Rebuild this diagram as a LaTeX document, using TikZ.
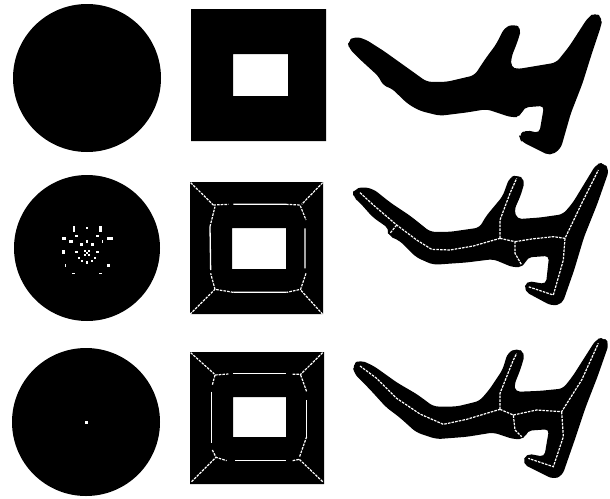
\documentclass[tikz,border=0pt]{standalone}
\tikzset{
  blob/.style={fill=black,draw=black,line width=1.6pt,line join=round,rounded corners=5pt},
  skel/.style={draw=white,line width=1.2pt,dash pattern=on 2.6pt off 1.1pt},
  skelsolid/.style={draw=white,line width=1.3pt},
  zoomed/.style={x=0.33333pt,y=-0.33333pt},
}
\newcommand{\wdot}[4]{\fill[white] ({#1-#3/2},{#2-#4/2}) rectangle ({#1+#3/2},{#2+#4/2});}
\begin{document}
\begin{tikzpicture}[x=1pt,y=-1pt]
\useasboundingbox (0,0) rectangle (610,498);
% circles
\fill[black] (87,78) circle (74);
\fill[black] (87,248) circle (73);
\fill[black] (86,422) circle (74);
% dots of the middle circle
\begin{scope}[shift={(50,210)},zoomed]
\foreach \x/\y/\w/\h in {71/58/6/18,111/54/8/8,152/58/8/18,80/78/10/4,143/78/10/4,42/86/14/8,63/95/10/10,111/95/8/8,158/95/4/10,179/86/18/8,94/104/8/8,128/104/8/8,40/126/10/10,80/126/8/8,143/126/8/8,104/122/6/6,118/122/6/6,111/128/8/6,104/136/6/6,118/136/6/6,87/145/6/6,135/145/6/6,97/152/6/6,111/158/8/8,125/152/6/6,46/167/4/10,175/167/10/10,71/191/10/4,152/191/10/4}
  {\wdot{\x}{\y}{\w}{\h}}
\end{scope}
\fill[white] (84.5,420.5) rectangle (87.5,423.5);
% squares
\fill[black,even odd rule] (191,9) rectangle (326,141) (233,54) rectangle (288,96);
\fill[black,even odd rule] (190,182) rectangle (323,314) (232,228) rectangle (286,269);
\fill[black,even odd rule] (190,352) rectangle (324,484) (233,397) rectangle (286,437);
% skeleton of the middle square
\begin{scope}[shift={(180,170)},zoomed]
\draw[skel] (32,38)--(100,105) (428,38)--(365,103) (30,433)--(105,358) (428,433)--(362,360);
\draw[skel] (100,105)--(145,103) (318,103)--(360,105)--(378,150);
\draw[skelsolid] (160,103)--(318,103) (375,175)--(375,295) (160,367)--(320,367) (90,170)--(92,300);
\draw[skel] (378,310)--(362,358)--(320,367) (160,367)--(105,358)--(92,310) (90,170)--(105,110);
\end{scope}
% skeleton of the bottom square
\begin{scope}[shift={(180,340)},zoomed]
\draw[skel] (32,38)--(103,102) (428,38)--(360,105) (35,425)--(108,352) (428,425)--(358,358);
\draw[skelsolid] (160,100)--(318,100) (165,362)--(318,362) (95,155)--(95,310) (380,180)--(380,290);
\draw[skel] (105,105)--(145,102) (338,103)--(358,103) (362,105)--(380,155) (380,290)--(358,352);
\draw[skel] (105,105)--(97,135) (97,330)--(108,352)--(140,362) (338,362)--(358,358);
\end{scope}
% top profile
\begin{scope}[shift={(340,10)},zoomed]
\draw[blob] (25,95)--(45,82)--(75,90)--(130,125)--(200,175)--(260,218)--(320,218)--(405,198)--(440,145)--(470,105)--(495,55)--(520,45)--(542,55)--(530,95)--(512,140)--(510,172)--(530,180)--(650,160)--(690,110)--(745,25)--(765,10)--(785,25)--(780,50)--(750,140)--(725,220)--(690,310)--(660,415)--(630,435)--(545,392)--(540,378)--(555,362)--(600,372)--(615,285)--(550,290)--(540,318)--(515,320)--(440,295)--(380,305)--(300,315)--(240,300)--(205,280)--(155,232)--(130,225)--(120,200)--(60,145)--(30,115)--cycle;
\end{scope}
% middle profile
\begin{scope}[shift={(340,160)},zoomed]
\draw[blob] (42,90)--(70,83)--(100,90)--(150,130)--(210,170)--(270,218)--(330,218)--(420,205)--(440,170)--(490,110)--(510,55)--(530,47)--(553,60)--(540,105)--(520,150)--(530,180)--(600,175)--(670,165)--(700,130)--(770,15)--(790,10)--(805,30)--(770,130)--(730,230)--(700,330)--(665,430)--(635,435)--(555,392)--(560,365)--(620,375)--(630,285)--(560,290)--(550,318)--(520,320)--(460,295)--(380,305)--(280,312)--(230,290)--(180,240)--(145,225)--(150,205)--(100,170)--(60,125)--(42,110)--cycle;
\draw[skel] (60,98)--(100,135)--(170,195)--(230,240)--(275,268)--(330,270)--(400,258)--(480,235)
 (480,235)--(480,180)--(510,100)--(530,55)
 (480,235)--(525,245)--(525,280)--(545,315)
 (525,245)--(575,237)--(640,230)--(675,235)--(730,120)--(775,30)
 (675,235)--(670,300)--(650,370)--(640,405)--(565,380)
 (170,195)--(150,220);
\end{scope}
% bottom profile
\begin{scope}[shift={(340,330)},zoomed]
\draw[blob] (40,105)--(60,92)--(100,110)--(170,160)--(230,195)--(280,232)--(350,232)--(420,215)--(450,180)--(490,120)--(505,70)--(530,57)--(553,70)--(540,115)--(520,165)--(525,188)--(600,185)--(670,178)--(700,140)--(770,30)--(790,25)--(805,40)--(770,140)--(735,230)--(705,320)--(665,435)--(640,445)--(550,400)--(560,373)--(615,383)--(630,295)--(560,300)--(552,325)--(520,325)--(460,305)--(380,318)--(290,325)--(230,305)--(180,260)--(140,230)--(90,175)--(45,130)--cycle;
\draw[skel] (60,108)--(110,145)--(170,205)--(240,252)--(310,283)--(380,268)--(480,238)
 (480,238)--(480,190)--(520,90)--(530,70)
 (480,238)--(520,255)--(525,300)--(545,320)
 (520,255)--(590,240)--(665,245)--(725,150)--(775,40)
 (665,245)--(670,320)--(640,410)--(565,385);
\end{scope}
\end{tikzpicture}
\end{document}
